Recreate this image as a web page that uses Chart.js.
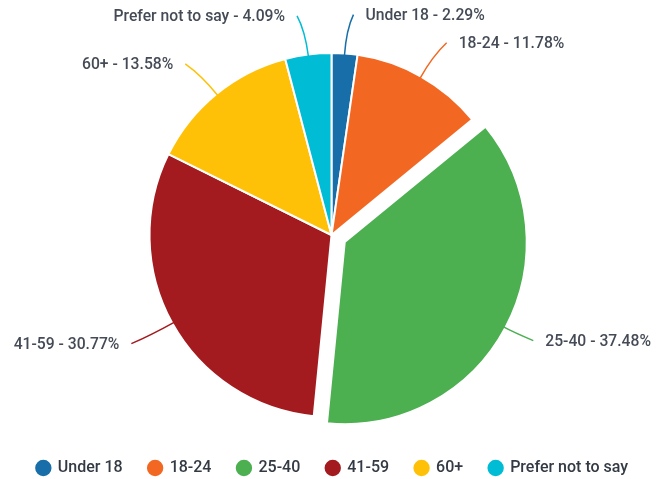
<!DOCTYPE html>
<html>
<head>
<meta charset="utf-8">
<script src="https://cdn.jsdelivr.net/npm/chart.js@4"></script>
<style>
html,body{margin:0;padding:0;background:#fff;}
#wrap{width:656px;height:479px;position:relative;}
</style>
</head>
<body>
<div id="wrap"><canvas id="c" width="656" height="479"></canvas></div>
<script>
const categories = ["Under 18", "18-24", "25-40", "41-59", "60+", "Prefer not to say"];
const values = [2.29, 11.78, 37.48, 30.77, 13.58, 4.09];
const colors = ["#176ea8", "#f26822", "#4caf50", "#a31b1e", "#ffc107", "#00bcd4"];
const explode = [0, 0, 15, 0, 0, 0];

// shift exploded slices outward along their mid-angle
const explodePlugin = {
  id: 'explode',
  afterDatasetUpdate(chart, args) {
    const meta = chart.getDatasetMeta(args.index);
    meta.data.forEach((arc, i) => {
      const e = explode[i] || 0;
      if (!e) return;
      const mid = (arc.startAngle + arc.endAngle) / 2;
      arc.x += Math.cos(mid) * e;
      arc.y += Math.sin(mid) * e;
    });
  }
};

const labelPlugin = {
  id: 'outLabels',
  afterDatasetsDraw(chart) {
    const ctx = chart.ctx;
    const meta = chart.getDatasetMeta(0);
    ctx.save();
    meta.data.forEach((arc, i) => {
      const p = arc.getProps(['x','y','startAngle','endAngle','outerRadius'], true);
      const mid = (p.startAngle + p.endAngle) / 2;
      const dx = Math.cos(mid), dy = Math.sin(mid);
      const e = explode[i] || 0;
      const bx = p.x - dx * e, by = p.y - dy * e; // un-exploded centre
      const r = p.outerRadius;
      const sign = dx >= 0 ? 1 : -1;
      const x0 = p.x + dx * (r - 2), y0 = p.y + dy * (r - 2);
      const x2 = bx + dx * (r + 40) + sign * 6, y2 = by + dy * (r + 40) + 1;
      const x1 = bx + dx * (r + 24), y1 = by + dy * (r + 24);
      ctx.strokeStyle = colors[i];
      ctx.lineWidth = 1.5;
      ctx.beginPath();
      ctx.moveTo(x0, y0);
      ctx.quadraticCurveTo(x1, y1, x2, y2);
      ctx.stroke();
      ctx.font = '500 15.7px Roboto';
      ctx.fillStyle = '#454b56';
      ctx.textBaseline = 'middle';
      ctx.textAlign = sign > 0 ? 'left' : 'right';
      ctx.fillText(categories[i] + ' - ' + values[i].toFixed(2) + '%', x2 + sign * 12, y2 + 1);
    });
    ctx.restore();
  }
};

new Chart(document.getElementById('c'), {
  type: 'pie',
  data: {
    labels: categories,
    datasets: [{
      data: values,
      backgroundColor: colors,
      borderColor: '#ffffff',
      borderWidth: 2,
      hoverOffset: 0
    }]
  },
  options: {
    responsive: false,
    animation: false,
    radius: 182,
    layout: { padding: { top: 36, bottom: -7, left: 7, right: -2 } },
    plugins: {
      tooltip: { enabled: false },
      legend: {
        position: 'bottom',
        labels: {
          usePointStyle: true,
          pointStyle: 'circle',
          boxWidth: 13,
          boxHeight: 13,
          padding: 26,
          color: '#333a44',
          font: { family: 'Roboto', size: 16, weight: '500' }
        }
      }
    }
  },
  plugins: [explodePlugin, labelPlugin]
});
</script>
</body>
</html>
